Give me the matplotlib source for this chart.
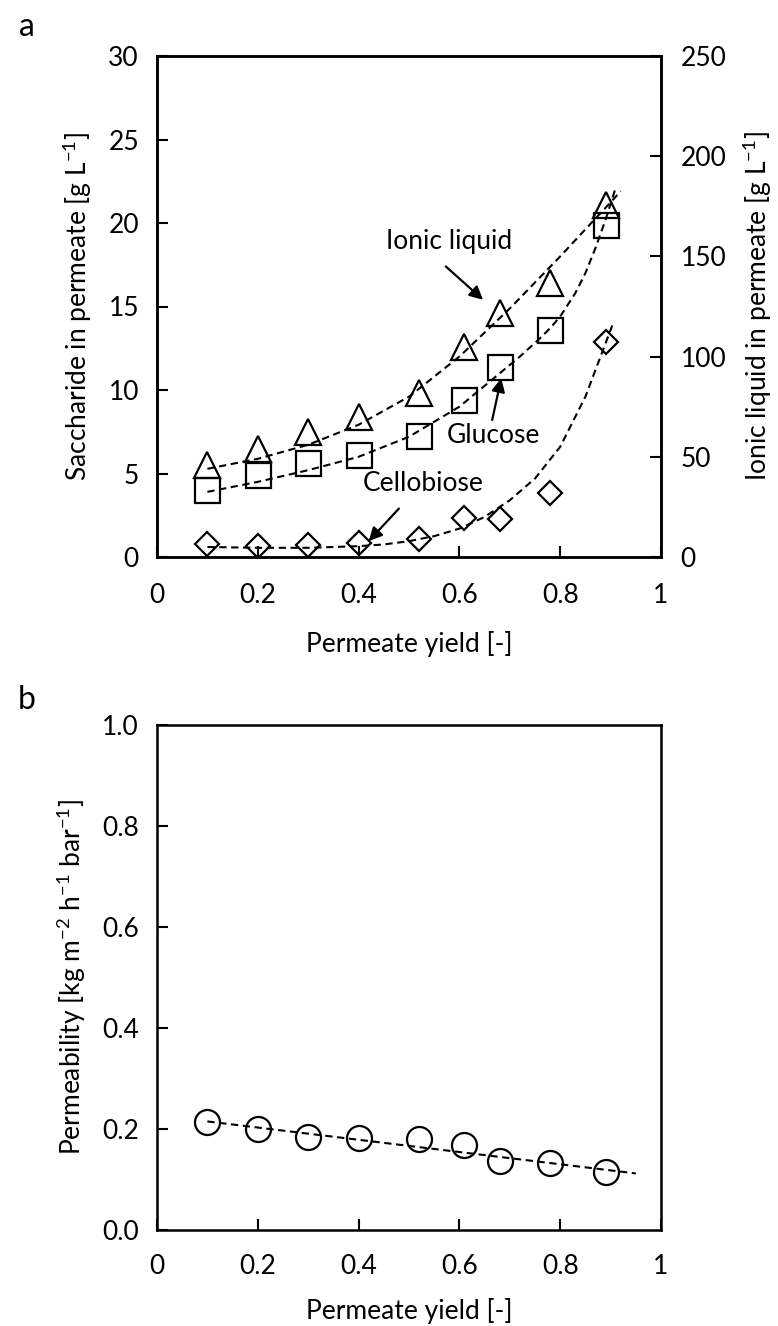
import matplotlib
matplotlib.use("Agg")
import matplotlib.pyplot as plt
from matplotlib.ticker import FormatStrFormatter

plt.rcParams['font.family'] = ['Lato', 'DejaVu Sans']
plt.rcParams['mathtext.fontset'] = 'custom'
plt.rcParams['mathtext.rm'] = 'Lato'

# ---------------- data (panel a) ----------------
yield_x = [0.10, 0.20, 0.30, 0.40, 0.52, 0.61, 0.68, 0.78, 0.89]
ionic_liquid = [46, 54, 62.4, 69.8, 81.8, 104.8, 121.9, 136.7, 175.7]   # right axis, g/L
glucose = [4.0, 4.9, 5.6, 6.1, 7.25, 9.4, 11.4, 13.6, 19.9]             # left axis, g/L
cellobiose = [0.8, 0.65, 0.7, 0.85, 1.05, 2.35, 2.3, 3.85, 12.9]        # left axis, g/L

# trend curves
il_trend_x = [0.10, 0.20, 0.30, 0.40, 0.50, 0.60, 0.70, 0.80, 0.90, 0.92]
il_trend_y = [44, 49, 56, 66, 80, 100, 124, 150, 177, 182.5]
glu_trend_x = [0.10, 0.20, 0.30, 0.40, 0.50, 0.60, 0.68, 0.72, 0.76, 0.78, 0.80,
               0.83, 0.85, 0.87, 0.89, 0.91]
glu_trend_y = [3.9, 4.5, 5.2, 6.0, 7.2, 9.0, 11.0, 12.0, 13.1, 13.7, 14.4,
               15.8, 17.0, 18.5, 20.2, 22.1]
cel_trend_x = [0.10, 0.20, 0.30, 0.40, 0.45, 0.50, 0.55, 0.60, 0.65, 0.70, 0.75, 0.80, 0.85, 0.90, 0.905]
cel_trend_y = [0.6, 0.55, 0.55, 0.65, 0.75, 0.95, 1.25, 1.7, 2.4, 3.4, 4.7, 6.6, 9.6, 13.6, 14.0]

# ---------------- data (panel b) ----------------
permeability = [0.213, 0.200, 0.185, 0.183, 0.180, 0.168, 0.137, 0.133, 0.114]
perm_trend_x = [0.10, 0.95]
perm_trend_y = [0.215, 0.112]

x_ticks = [0, 0.2, 0.4, 0.6, 0.8, 1.0]
x_ticklabels = ["0", "0.2", "0.4", "0.6", "0.8", "1"]

W, H = 778, 1326
fig = plt.figure(figsize=(W / 100, H / 100), dpi=100)

def px_axes(left, top, right, bottom):
    return fig.add_axes([left / W, 1 - bottom / H, (right - left) / W, (bottom - top) / H])

FS = 19
LW_SPINE = 1.8
dash = (0, (3.5, 2.2))
mk = dict(linestyle='none', markerfacecolor='none', markeredgecolor='black',
          markeredgewidth=1.6, zorder=3)

def style(ax):
    for s in ax.spines.values():
        s.set_linewidth(LW_SPINE)
    ax.tick_params(direction='in', length=8, width=1.5, labelsize=FS)

# ---------------- panel a ----------------
ax1 = px_axes(157, 56, 661, 557)
ax2 = ax1.twinx()
style(ax1)
style(ax2)

ax1.plot(glu_trend_x, glu_trend_y, color='black', lw=1.5, linestyle=dash, zorder=2)
ax1.plot(cel_trend_x, cel_trend_y, color='black', lw=1.5, linestyle=dash, zorder=2)
ax1.plot(yield_x, glucose, marker='s', markersize=18, **mk)
ax1.plot(yield_x, cellobiose, marker='D', markersize=12, **mk)
ax2.plot(il_trend_x, il_trend_y, color='black', lw=1.5, linestyle=dash, zorder=2)
ax2.plot(yield_x, ionic_liquid, marker='^', markersize=18.5, **mk)

ax1.set_xlim(0, 1)
ax1.set_ylim(0, 30)
ax2.set_ylim(0, 250)
ax1.set_xticks(x_ticks)
ax1.set_xticklabels(x_ticklabels)
ax1.set_yticks([0, 5, 10, 15, 20, 25, 30])
ax2.set_yticks([0, 50, 100, 150, 200, 250])
ax1.tick_params(axis='x', pad=19)
ax1.tick_params(axis='y', pad=13)
ax2.tick_params(axis='y', pad=14)
ax1.set_xlabel("Permeate yield [-]", fontsize=FS, labelpad=16)
ax1.set_ylabel(r"Saccharide in permeate [g L$^{-1}$]", fontsize=FS, labelpad=10)
ax2.set_ylabel(r"Ionic liquid in permeate [g L$^{-1}$]", fontsize=FS, rotation=90, labelpad=10)

arrow = dict(arrowstyle='-|>', color='black', lw=1.6, mutation_scale=20, shrinkA=0, shrinkB=0)
ax1.text(0.58, 18.9, "Ionic liquid", fontsize=FS, ha='center', va='center')
ax1.annotate("", xy=(0.647, 15.4), xytext=(0.573, 17.4), arrowprops=arrow)
ax1.text(0.667, 7.3, "Glucose", fontsize=FS, ha='center', va='center')
ax1.annotate("", xy=(0.683, 10.7), xytext=(0.665, 8.2), arrowprops=arrow)
ax1.text(0.528, 4.4, "Cellobiose", fontsize=FS, ha='center', va='center')
ax1.annotate("", xy=(0.42, 0.95), xytext=(0.48, 2.9), arrowprops=arrow)

fig.text(27 / W, 1 - 27 / H, "a", fontsize=23, ha='center', va='center')

# ---------------- panel b ----------------
ax3 = px_axes(157, 725, 661, 1230)
style(ax3)
ax3.plot(perm_trend_x, perm_trend_y, color='black', lw=1.5, linestyle=dash, zorder=2)
ax3.plot(yield_x, permeability, marker='o', markersize=18, **mk)
ax3.set_xlim(0, 1)
ax3.set_ylim(0, 1)
ax3.set_xticks(x_ticks)
ax3.set_xticklabels(x_ticklabels)
ax3.set_yticks([0, 0.2, 0.4, 0.6, 0.8, 1.0])
ax3.yaxis.set_major_formatter(FormatStrFormatter('%.1f'))
ax3.tick_params(axis='x', pad=17)
ax3.tick_params(axis='y', pad=13)
ax3.set_xlabel("Permeate yield [-]", fontsize=FS, labelpad=14)
ax3.set_ylabel(r"Permeability [kg m$^{-2}$ h$^{-1}$ bar$^{-1}$]", fontsize=FS, labelpad=10)

fig.text(27 / W, 1 - 700 / H, "b", fontsize=23, ha='center', va='center')

fig.savefig("out.png", dpi=100)
